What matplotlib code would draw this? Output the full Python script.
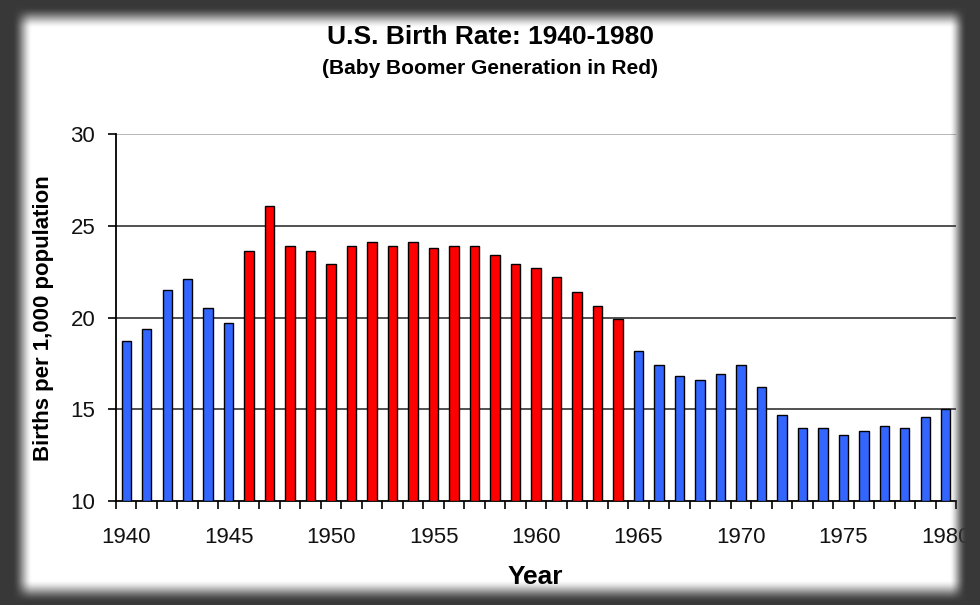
import numpy as np
import matplotlib
matplotlib.use("Agg")
import matplotlib.pyplot as plt

years = list(range(1940, 1981))
rates = [18.7, 19.4, 21.5, 22.1, 20.5, 19.7,
         23.6, 26.1, 23.9, 23.6, 22.9, 23.9, 24.1, 23.9, 24.1, 23.8,
         23.9, 23.9, 23.4, 22.9, 22.7, 22.2, 21.4, 20.6, 19.9,
         18.2, 17.4, 16.8, 16.6, 16.9, 17.4, 16.2, 14.7, 14.0, 14.0,
         13.6, 13.8, 14.1, 14.0, 14.6, 15.0]
boomer_first, boomer_last = 1946, 1964
tick_years = [1940, 1945, 1950, 1955, 1960, 1965, 1970, 1975, 1980]

plt.rcParams['font.family'] = ['Liberation Sans', 'DejaVu Sans']

fig = plt.figure(figsize=(9.8, 6.05), dpi=100)
fig.patch.set_facecolor('white')
ax = fig.add_axes([116/980, 1-501/605, 840/980, (501-134)/605])

pos = np.arange(len(years))
colors = ['#FF0000' if boomer_first <= y <= boomer_last else '#3366FF' for y in years]
ax.bar(pos, np.array(rates) - 10, bottom=10, width=0.46, color=colors,
       edgecolor='black', linewidth=1.0, zorder=3)

ax.set_xlim(-0.5, len(years) - 0.5)
ax.set_ylim(10, 30)
ax.set_yticks([10, 15, 20, 25, 30])
for v in [15, 20, 25]:
    ax.axhline(v, color='#222222', linewidth=1.1, zorder=1)
ax.axhline(30, color='#aaaaaa', linewidth=1.2, zorder=1)

ax.set_xticks([years.index(y) for y in tick_years])
ax.set_xticklabels([str(y) for y in tick_years])
ax.set_xticks(np.arange(-0.5, len(years)), minor=True)
ax.tick_params(axis='x', which='major', length=0, pad=19, labelsize=16)
ax.tick_params(axis='x', which='minor', length=6, width=1.2, direction='out')
ax.tick_params(axis='y', length=6, width=1.2, direction='out', labelsize=16, pad=9)
for lab in ax.get_xticklabels() + ax.get_yticklabels():
    lab.set_color('#111111')

for s in ['top', 'right']:
    ax.spines[s].set_visible(False)
ax.spines['left'].set_linewidth(1.3)
ax.spines['bottom'].set_linewidth(1.3)

fig.text(43/980, 1-318/605, 'Births per 1,000 population', rotation=90,
         ha='center', va='center', fontsize=16, fontweight='bold')
fig.text(535/980, 1-577/605, 'Year', ha='center', va='center',
         fontsize=19, fontweight='bold')

fig.text(0.5, 1-37.5/605, 'U.S. Birth Rate: 1940-1980', ha='center', va='center',
         fontsize=19, fontweight='bold')
fig.text(0.5, 1-69/605, '(Baby Boomer Generation in Red)', ha='center', va='center',
         fontsize=15, fontweight='bold')

# dark picture frame with soft inner shadow
H, W = 605, 980
yy, xx = np.mgrid[0:H, 0:W]
def ramp(d, w):
    t = np.clip(d / w, 0, 1)
    return t * t * (3 - 2 * t)
inside = (ramp(xx - 12, 20) * ramp(965 - xx, 17) * ramp(yy - 6, 22) * ramp(602 - yy, 23))
frame = np.zeros((H, W, 4))
frame[..., :3] = 0.22
frame[..., 3] = 1 - inside
fax = fig.add_axes([0, 0, 1, 1], zorder=10)
fax.imshow(frame, aspect='auto', interpolation='bilinear')
fax.axis('off')

fig.savefig('out.png', dpi=100)
